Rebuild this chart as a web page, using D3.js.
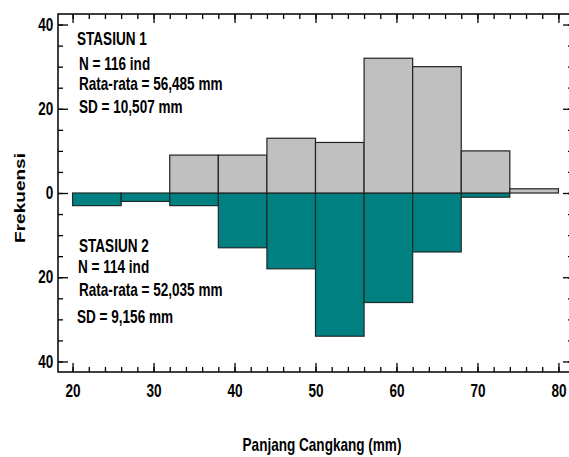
<!DOCTYPE html>
<html>
<head>
<meta charset="utf-8">
<script src="https://cdn.jsdelivr.net/npm/d3@7/dist/d3.min.js"></script>
<style>
  html, body { margin: 0; padding: 0; background: #fff; }
  svg { display: block; }
  .lbl { font-family: "Liberation Sans", Arial, sans-serif; font-weight: bold; font-size: 17.5px; fill: #000; }
</style>
</head>
<body>
<script>
// Length classes (mm): bin edges, 6 mm wide
const binEdges = [20, 26, 32, 38, 44, 50, 56, 62, 68, 74, 80];
// Frequencies per class
const stasiun1 = [0, 0, 9, 9, 13, 12, 32, 30, 10, 1];
const stasiun2 = [3, 2, 3, 13, 18, 34, 26, 14, 1, 0];
// Axis ticks
const xTicks = [20, 30, 40, 50, 60, 70, 80];
const yTicks = [-40, -20, 0, 20, 40];
// Summary text
const info1 = ["STASIUN 1", "N = 116 ind", "Rata-rata = 56,485 mm", "SD = 10,507 mm"];
const info2 = ["STASIUN 2", "N = 114 ind", "Rata-rata = 52,035 mm", "SD = 9,156 mm"];

const W = 569, H = 457;
const NARROW = 0.775; // horizontal squeeze giving a condensed bold face
const svg = d3.select("body").append("svg").attr("width", W).attr("height", H);

const L = 58, R = 573, T = 14, B = 372;
const x = d3.scaleLinear().domain([18.2, 81.8]).range([L, R]);
const y = d3.scaleLinear().domain([-42.5, 42.5]).range([B, T]);

const bins = binEdges.slice(0, -1).map((x0, i) => ({
  x0, x1: binEdges[i + 1], a: stasiun1[i], b: stasiun2[i]
}));

// Station 2 bars hang below zero
svg.append("g").selectAll("rect")
  .data(bins.filter(d => d.b > 0))
  .join("rect")
  .attr("x", d => x(d.x0))
  .attr("width", d => x(d.x1) - x(d.x0))
  .attr("y", y(0))
  .attr("height", d => y(-d.b) - y(0))
  .attr("fill", "#008080")
  .attr("stroke", "#1f2a2a")
  .attr("stroke-width", 1.2);

// Station 1 bars rise above zero
svg.append("g").selectAll("rect")
  .data(bins.filter(d => d.a > 0))
  .join("rect")
  .attr("x", d => x(d.x0))
  .attr("width", d => x(d.x1) - x(d.x0))
  .attr("y", d => y(d.a))
  .attr("height", d => y(0) - y(d.a))
  .attr("fill", "#c0c0c0")
  .attr("stroke", "#222")
  .attr("stroke-width", 1.2);

// Frame
svg.append("rect")
  .attr("x", L).attr("y", T).attr("width", R - L).attr("height", B - T)
  .attr("fill", "none").attr("stroke", "#000").attr("stroke-width", 1.5);

const minorX = d3.range(20, 81, 2);
const minorY = d3.range(-40, 41, 5);

function styleAxis(g) {
  g.select(".domain").remove();
  g.selectAll(".tick line").attr("stroke", "#000").attr("stroke-width", 1.3);
}

// Bottom axis
svg.append("g").attr("transform", `translate(0,${B})`)
  .call(d3.axisBottom(x).tickValues(minorX).tickSize(-5).tickFormat(""))
  .call(styleAxis);
svg.append("g").attr("class", "xaxis").attr("transform", `translate(0,${B})`)
  .call(d3.axisBottom(x).tickValues(xTicks).tickSize(-9).tickPadding(13).tickFormat(d3.format("d")))
  .call(styleAxis);

// Top axis
svg.append("g").attr("transform", `translate(0,${T})`)
  .call(d3.axisTop(x).tickValues(minorX).tickSize(-5).tickFormat(""))
  .call(styleAxis);
svg.append("g").attr("transform", `translate(0,${T})`)
  .call(d3.axisTop(x).tickValues(xTicks).tickSize(-9).tickFormat(""))
  .call(styleAxis);

// Left axis (counts shown as absolute values)
svg.append("g").attr("transform", `translate(${L},0)`)
  .call(d3.axisLeft(y).tickValues(minorY).tickSize(-5).tickFormat(""))
  .call(styleAxis);
svg.append("g").attr("class", "yaxis").attr("transform", `translate(${L},0)`)
  .call(d3.axisLeft(y).tickValues(yTicks).tickSize(-10).tickPadding(6).tickFormat(d => Math.abs(d)))
  .call(styleAxis);

// Right axis
svg.append("g").attr("transform", `translate(${R},0)`)
  .call(d3.axisRight(y).tickValues(minorY).tickSize(-5).tickFormat(""))
  .call(styleAxis);
svg.append("g").attr("transform", `translate(${R},0)`)
  .call(d3.axisRight(y).tickValues(yTicks).tickSize(-10).tickFormat(""))
  .call(styleAxis);

svg.selectAll(".xaxis text, .yaxis text")
  .attr("class", "lbl")
  .attr("font-family", null).attr("font-size", null)
  .attr("fill", "#000")
  .attr("transform", `scale(${NARROW},1)`);

// Narrow text placed at (px, py)
function narrowText(g, px, py, str, anchor) {
  return g.append("text")
    .attr("class", "lbl")
    .attr("text-anchor", anchor || "start")
    .attr("transform", `translate(${px},${py}) scale(${NARROW},1)`)
    .text(str);
}

// Summary text blocks
const info1Pos = [[77, 45], [79, 70], [79, 90], [79, 113]];
const info2Pos = [[79, 252], [78, 273], [79, 296], [77, 323]];
const gInfo = svg.append("g");
info1.forEach((s, i) => narrowText(gInfo, info1Pos[i][0], info1Pos[i][1], s));
info2.forEach((s, i) => narrowText(gInfo, info2Pos[i][0], info2Pos[i][1], s));

// Axis titles
narrowText(svg, 322, 451, "Panjang Cangkang (mm)", "middle");

svg.append("text")
  .attr("transform", "translate(25,198) rotate(-90)")
  .attr("text-anchor", "middle")
  .attr("font-family", "'Liberation Sans', Arial, sans-serif")
  .attr("font-weight", "bold")
  .attr("font-size", 14)
  .attr("textLength", 90)
  .attr("lengthAdjust", "spacingAndGlyphs")
  .text("Frekuensi");
</script>
</body>
</html>
